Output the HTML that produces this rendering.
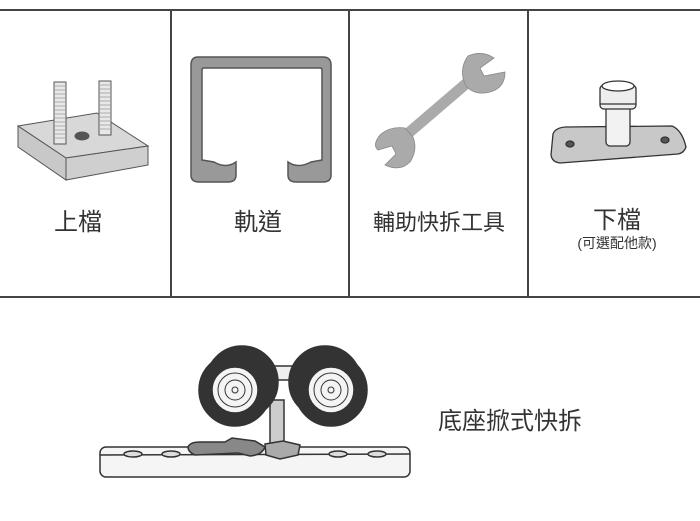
<!DOCTYPE html>
<html><head><meta charset="utf-8"><style>
body{margin:0;background:#fff;width:700px;height:521px;overflow:hidden}
svg{display:block}
text{font-family:"Liberation Sans","Noto Sans CJK TC",sans-serif;fill:#333}
</style></head><body>
<svg width="700" height="521" viewBox="0 0 700 521">
<rect width="700" height="521" fill="#fff"/>
<g stroke="#444" stroke-width="2" fill="none">
<line x1="0" y1="10" x2="700" y2="10"/>
<line x1="0" y1="297" x2="700" y2="297"/>
<line x1="171" y1="10" x2="171" y2="297"/>
<line x1="349" y1="10" x2="349" y2="297"/>
<line x1="528" y1="10" x2="528" y2="297"/>
</g>
<g stroke="#555" stroke-width="1">
<polygon points="18,126 97,113 148,146 66,158" fill="#d8d8d8"/>
<polygon points="18,126 66,158 66,180 18,147" fill="#c8c8c8"/>
<polygon points="66,158 148,146 148,165 66,180" fill="#cfcfcf"/>
<ellipse cx="82" cy="136" rx="7" ry="4" fill="#555"/>
<rect x="54" y="82" width="12" height="62" fill="#e8e8e8"/>
<rect x="99" y="81" width="12" height="54" fill="#e8e8e8"/>
</g>
<g stroke="#999" stroke-width="0.8">
<path d="M55 86h10M55 90h10M55 94h10M55 98h10M55 102h10M55 106h10M55 110h10M55 114h10M55 118h10M55 122h10M55 126h10M55 130h10M55 134h10M55 138h10"/>
<path d="M100 85h10M100 89h10M100 93h10M100 97h10M100 101h10M100 105h10M100 109h10M100 113h10M100 117h10M100 121h10M100 125h10M100 129h10"/>
</g>
<text x="78" y="230" font-size="24" text-anchor="middle">上檔</text>
<path d="M198 57 H323 Q331 57 331 65 V175 Q331 182 323 182 H296 Q288 182 288 175 V162 Q298 169 311 162 L322 160 V70 Q322 68 320 68 H204 Q202 68 202 70 V160 L214 162 Q226 169 236 162 V175 Q236 182 228 182 H199 Q191 182 191 175 V65 Q191 57 198 57Z" fill="#999" stroke="#555" stroke-width="1.5"/>
<text x="258" y="230" font-size="24" text-anchor="middle">軌道</text>
<g fill="#aaa" stroke="#888" stroke-width="0.8">
<line x1="398" y1="142" x2="475" y2="76" stroke="#aaa" stroke-width="11"/>
<path d="M468 56 Q482 50 494 58 L480 68 L484 76 L505 72 Q505 88 490 92 Q475 96 466 86 Q458 70 468 56Z"/>
<path d="M405 128 Q390 126 380 135 Q372 145 378 150 L392 146 L396 154 L385 165 Q400 172 410 162 Q418 150 413 137Z"/>
</g>
<text x="439" y="230" font-size="22" text-anchor="middle">輔助快拆工具</text>
<g stroke="#333" stroke-width="1.3">
<path d="M553 134 Q555 128 565 127 L672 126 Q682 130 686 147 Q684 153 678 154 L560 163 Q552 162 551 155Z" fill="#c8c8c8"/>
<rect x="606" y="104" width="24" height="42" rx="4" fill="#f2f2f2"/>
<rect x="600" y="85" width="36" height="24" rx="4" fill="#eee"/>
<ellipse cx="618" cy="86" rx="16" ry="5" fill="#fff"/>
<line x1="600" y1="104" x2="636" y2="104"/>
<ellipse cx="570" cy="144" rx="4" ry="3" fill="#555"/>
<ellipse cx="665" cy="140" rx="4" ry="3" fill="#555"/>
</g>
<text x="617" y="228" font-size="24" text-anchor="middle">下檔</text>
<text x="617" y="248" font-size="14" text-anchor="middle">(可選配他款)</text>
<g stroke="#333" stroke-width="1.5">
<rect x="100" y="447" width="310" height="30" rx="6" fill="#f5f5f5"/>
<line x1="100" y1="455" x2="410" y2="454"/>
<g fill="#ddd"><ellipse cx="133" cy="454" rx="9" ry="3"/><ellipse cx="171" cy="454" rx="9" ry="3"/><ellipse cx="338" cy="454" rx="9" ry="3"/><ellipse cx="377" cy="454" rx="9" ry="3"/></g>
<rect x="270" y="400" width="14" height="50" fill="#ccc"/>
<path d="M188 447 Q190 442 200 442 L225 442 L232 438 L255 441 L265 447 Q262 455 250 456 L238 453 L195 455 Q188 452 188 447Z" fill="#888"/>
<path d="M265 444 L283 441 L300 445 L298 455 L280 459 L266 455Z" fill="#aaa"/>
<rect x="250" y="366" width="60" height="14" fill="#eee"/>
<circle cx="242" cy="382" r="36" fill="#333"/>
<circle cx="325" cy="382" r="36" fill="#333"/>
<circle cx="235" cy="390" r="36" fill="#333"/>
<circle cx="331" cy="390" r="36" fill="#333"/>
<g fill="#f4f4f4"><circle cx="235" cy="390" r="23"/><circle cx="331" cy="390" r="23"/></g>
<g fill="none" stroke-width="1"><circle cx="235" cy="390" r="17"/><circle cx="331" cy="390" r="17"/><circle cx="235" cy="390" r="10"/><circle cx="331" cy="390" r="10"/><circle cx="235" cy="390" r="3"/><circle cx="331" cy="390" r="3"/></g>
</g>
<text x="510" y="429" font-size="24" text-anchor="middle">底座掀式快拆</text>
</svg>
</body></html>
